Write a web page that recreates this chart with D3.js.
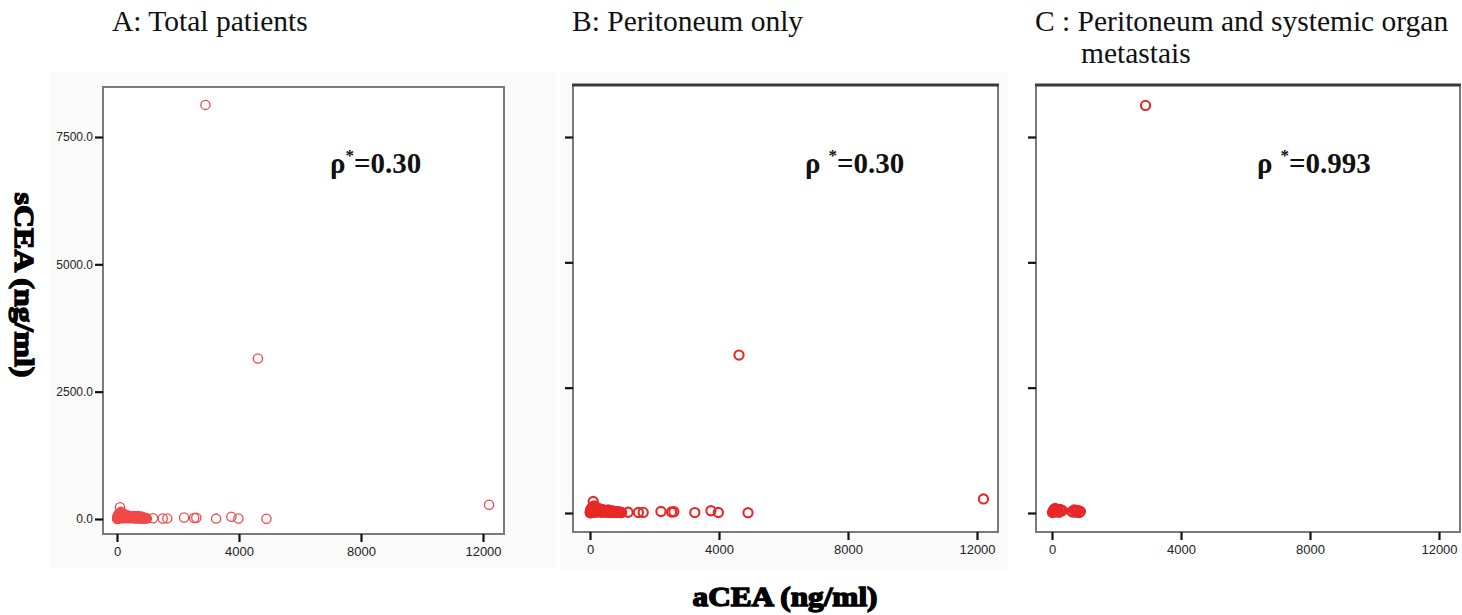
<!DOCTYPE html>
<html>
<head>
<meta charset="utf-8">
<script src="https://cdn.jsdelivr.net/npm/d3@7"></script>
<style>
  html, body { margin: 0; padding: 0; background: #fff; }
  svg { display: block; }
</style>
</head>
<body>
<svg id="chart" width="1462" height="615"></svg>
<script>
// ---------------- DATA ----------------
const xTicks = [0, 4000, 8000, 12000];
const yTicks = [0, 2500, 5000, 7500];
const panelTitles = ["A: Total patients", "B: Peritoneum only", "C : Peritoneum and systemic organ"];
const panelTitleSecondLine = ["", "", "metastais"];
const rhoValues = ["0.30", "0.30", "0.993"];
const xAxisLabel = "aCEA (ng/ml)";
const yAxisLabel = "sCEA (ng/ml)";

// Peritoneum only (aCEA, sCEA)
const peritoneumACEA = [5, 10, 15, 20, 25, 30, 38, 45, 52, 60, 70, 80, 90, 100, 110, 120, 130, 140, 150, 160, 175, 190, 205, 220, 235, 250, 265, 280, 300, 320, 340, 360, 380, 400, 425, 450, 475, 500, 530, 560, 590, 620, 650, 680, 710, 740, 770, 800, 830, 860, 890, 920, 950, 980,
  1180, 1500, 1650, 2200, 2530, 2600, 3250, 3750, 3980, 4900, 4620, 12200];
const peritoneumSCEA = [5, 20, 40, 10, 70, 30, 55, 10, 90, 60, 30, 120, 45, 230, 80, 15, 140, 50, 100, 25, 70, 40, 110, 20, 90, 60, 30, 80, 50, 20, 40, 70, 15, 60, 30, 50, 20, 40, 15, 60, 30, 10, 45, 20, 35, 12, 30, 8, 25, 15, 20, 10, 18, 8,
  15, 10, 12, 30, 20, 25, 8, 45, 10, 5, 3150, 280];

// Peritoneum and systemic organ metastasis (aCEA, sCEA)
const systemicACEA = [15, 40, 60, 80, 100, 120, 150, 180, 220, 250, 290, 320, 620, 650, 690, 720, 760, 800, 840, 880, 2900];
const systemicSCEA = [10, 40, 70, 20, 90, 60, 30, 50, 15, 70, 40, 50, 30, 20, 60, 40, 15, 50, 10, 30, 8130];

// Total = union of both groups
const totalACEA = peritoneumACEA.concat(systemicACEA);
const totalSCEA = peritoneumSCEA.concat(systemicSCEA);

// ---------------- LAYOUT ----------------
const panels = [
  { a: totalACEA, s: totalSCEA, frame: {l: 103, r: 504, t: 87, b: 534}, xr: [117, 483], yr: [519, 137],
    labels: true, col: "#f04848", sw: 1.3, bg: {l: 50, r: 556, t: 72, b: 568}, topThick: false,
    title: {x: 112, y: 31}, rho: {x: 330, y: 173, gap: 0} },
  { a: peritoneumACEA, s: peritoneumSCEA, frame: {l: 573, r: 998, t: 85, b: 532}, xr: [590, 977], yr: [513, 137],
    labels: false, col: "#e82828", sw: 2.1, bg: {l: 560, r: 1008, t: 72, b: 570}, topThick: true,
    title: {x: 572, y: 31}, rho: {x: 805, y: 173, gap: 8} },
  { a: systemicACEA, s: systemicSCEA, frame: {l: 1036, r: 1460, t: 85, b: 532}, xr: [1052, 1439], yr: [513, 137],
    labels: false, col: "#e82828", sw: 2.1, bg: null, topThick: true,
    title: {x: 1035, y: 31}, rho: {x: 1257, y: 173, gap: 8} }
];

const svg = d3.select("#chart");
const serif = "Liberation Serif, Times New Roman, serif";

panels.forEach((p, i) => {
  const g = svg.append("g");
  const x = d3.scaleLinear().domain([0, 12000]).range(p.xr);
  const y = d3.scaleLinear().domain([0, 7500]).range(p.yr);
  const f = p.frame;

  if (p.bg) {
    g.append("rect").attr("x", p.bg.l).attr("y", p.bg.t)
      .attr("width", p.bg.r - p.bg.l).attr("height", p.bg.b - p.bg.t)
      .attr("fill", "#fafafa");
  }
  g.append("rect").attr("x", f.l).attr("y", f.t)
    .attr("width", f.r - f.l).attr("height", f.b - f.t)
    .attr("fill", "#fff").attr("stroke", "#7a7a7a").attr("stroke-width", 2);
  if (p.topThick) {
    g.append("line").attr("x1", f.l - 1).attr("x2", f.r + 1).attr("y1", f.t).attr("y2", f.t)
      .attr("stroke", "#3a3a3a").attr("stroke-width", 3);
  }

  // Y axis
  const yAxis = d3.axisLeft(y).tickValues(yTicks).tickSize(8).tickPadding(2)
    .tickFormat(p.labels ? d3.format(".1f") : () => "");
  const ya = g.append("g").attr("transform", `translate(${f.l},0)`).call(yAxis);
  ya.select(".domain").remove();
  ya.selectAll(".tick line").attr("stroke", "#111").attr("stroke-width", 2.2);
  ya.selectAll(".tick text").attr("font-family", "Liberation Sans, Arial, sans-serif")
    .attr("font-size", 12).attr("fill", "#222");

  // X axis
  const xAxis = d3.axisBottom(x).tickValues(xTicks).tickSize(8).tickPadding(5).tickFormat(d3.format("d"));
  const xa = g.append("g").attr("transform", `translate(0,${f.b})`).call(xAxis);
  xa.select(".domain").remove();
  xa.selectAll(".tick line").attr("stroke", "#111").attr("stroke-width", 2.2);
  xa.selectAll(".tick text").attr("font-family", "Liberation Sans, Arial, sans-serif")
    .attr("font-size", 13).attr("fill", "#222");

  // Points
  const pts = p.a.map((v, k) => ({ a: v, s: p.s[k] }));
  g.append("g").selectAll("circle").data(pts).join("circle")
    .attr("cx", d => x(d.a)).attr("cy", d => y(d.s)).attr("r", 4.6)
    .attr("fill", "none").attr("stroke", p.col).attr("stroke-width", p.sw);

  // Title
  svg.append("text").attr("x", p.title.x).attr("y", p.title.y)
    .attr("font-family", serif).attr("font-size", 29.5).attr("fill", "#111")
    .text(panelTitles[i]);
  if (panelTitleSecondLine[i]) {
    svg.append("text").attr("x", p.title.x + 46).attr("y", p.title.y + 32)
      .attr("font-family", serif).attr("font-size", 29.5).attr("fill", "#111")
      .text(panelTitleSecondLine[i]);
  }

  // rho annotation
  const r = svg.append("text").attr("x", p.rho.x).attr("y", p.rho.y)
    .attr("font-family", serif).attr("font-weight", "bold")
    .attr("font-size", 29).attr("fill", "#111");
  r.append("tspan").text("ρ");
  r.append("tspan").attr("dx", p.rho.gap).attr("dy", -12).attr("font-size", 17).text("*");
  r.append("tspan").attr("dy", 12).text("=" + rhoValues[i]);
});

// Axis titles
svg.append("text").attr("x", 785).attr("y", 606).attr("text-anchor", "middle")
  .attr("font-family", serif).attr("font-weight", "bold")
  .attr("font-size", 27).attr("fill", "#000").attr("stroke", "#000").attr("stroke-width", 1.4)
  .attr("textLength", 185).attr("lengthAdjust", "spacingAndGlyphs")
  .text(xAxisLabel);

svg.append("text").attr("transform", "translate(15,285) rotate(90)").attr("text-anchor", "middle")
  .attr("font-family", serif).attr("font-weight", "bold")
  .attr("font-size", 27).attr("fill", "#000").attr("stroke", "#000").attr("stroke-width", 1.4)
  .attr("textLength", 185).attr("lengthAdjust", "spacingAndGlyphs")
  .text(yAxisLabel);
</script>
</body>
</html>
